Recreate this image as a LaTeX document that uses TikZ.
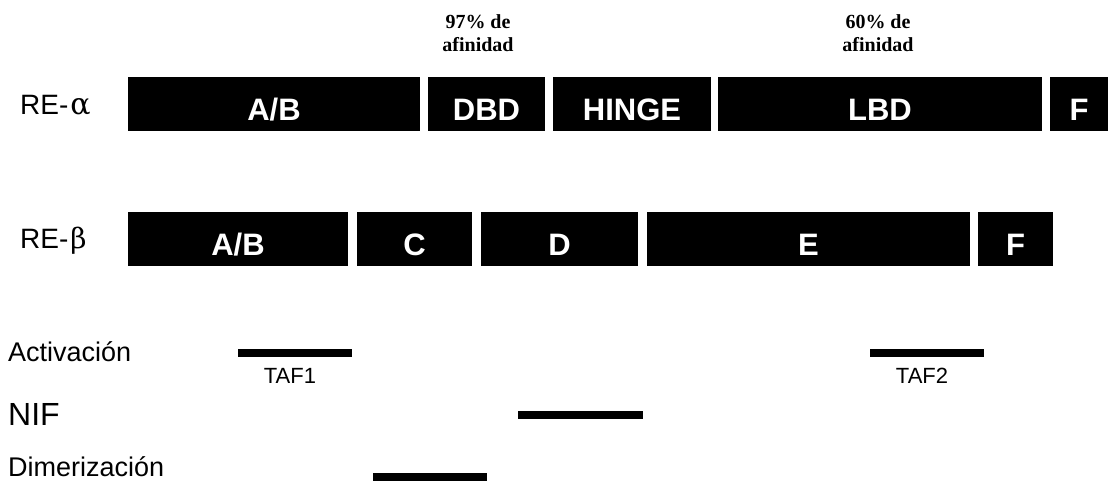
\documentclass[tikz,border=0pt]{standalone}
\usepackage{fontspec}
\setmainfont{Liberation Sans}
\newfontfamily\tnr{Liberation Serif}
\newfontfamily\grk{DejaVu Serif}
\begin{document}
\begin{tikzpicture}[x=1pt,y=-1pt,
  seg/.style={fill=black, text=white, font=\bfseries\fontsize{31}{31}\selectfont,
    inner sep=0pt, text height=32pt, text depth=0pt, minimum height=54pt},
  bar/.style={fill=black, inner sep=0pt, minimum height=7.5pt},
  lab/.style={anchor=base west, inner sep=0pt, font=\fontsize{27}{27}\selectfont},
  relab/.style={anchor=base west, inner sep=0pt, font=\fontsize{28}{28}\selectfont},
  taf/.style={anchor=base, inner sep=0pt, font=\fontsize{22}{22}\selectfont},
  aff/.style={anchor=north, inner sep=0pt, align=center, font=\tnr\bfseries\fontsize{20}{23}\selectfont}]
\useasboundingbox (0,0) rectangle (1118,483);
% affinity notes
\node[aff] (aff1) at (478,14) {97\% de\\afinidad};
\node[aff] (aff2) at (878,14) {60\% de\\afinidad};
% RE-alpha
\node[relab] (ra) at (20,114) {RE-\kern2pt{\grk\fontsize{30}{30}\selectfont α}};
\node[seg, minimum width=292pt] (aAB) at (274,104) {A/B};
\node[seg, minimum width=117pt] (aDBD) at (486.5,104) {DBD};
\node[seg, minimum width=158pt] (aH) at (632,104) {HINGE};
\node[seg, minimum width=324pt] (aLBD) at (880,104) {LBD};
\node[seg, minimum width=58pt] (aF) at (1079,104) {F};
% RE-beta
\node[relab] (rb) at (20,248) {RE-\kern2pt{\grk\fontsize{28}{28}\selectfont β}};
\node[seg, minimum width=220pt] (bAB) at (238,239) {A/B};
\node[seg, minimum width=115pt] (bC) at (414.5,239) {C};
\node[seg, minimum width=157pt] (bD) at (559.5,239) {D};
\node[seg, minimum width=323pt] (bE) at (808.5,239) {E};
\node[seg, minimum width=75pt] (bF) at (1015.5,239) {F};
% functional regions
\node[lab] (act) at (8,361) {Activación};
\node[lab, font=\fontsize{32}{32}\selectfont] (nif) at (8,425) {NIF};
\node[lab] (dim) at (8,476) {Dimerización};
\node[bar, minimum width=114pt] (taf1) at (295,353) {};
\node[bar, minimum width=114pt] (taf2) at (927,353) {};
\node[bar, minimum width=125pt] (nifb) at (580.5,415) {};
\node[bar, minimum width=114pt] (dimb) at (430,477) {};
\node[taf] (t1) at (290,383) {TAF1};
\node[taf] (t2) at (922,383) {TAF2};
\end{tikzpicture}
\end{document}
